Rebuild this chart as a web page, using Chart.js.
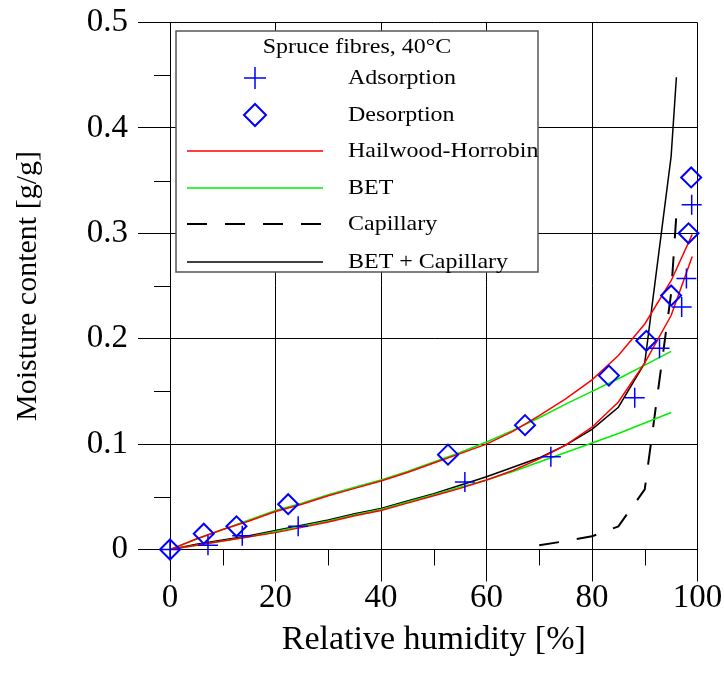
<!DOCTYPE html>
<html>
<head>
<meta charset="utf-8">
<script src="https://cdn.jsdelivr.net/npm/chart.js@4/dist/chart.umd.min.js"></script>
<style>
  html, body { margin: 0; padding: 0; background: #fff; }
  canvas { display: block; }
</style>
</head>
<body>
<canvas id="sorption" width="724" height="685"></canvas>
<script>
// measured points, relative humidity [%] / moisture content [g/g]
var adsRH = [0, 7.2, 13.7, 24.3, 55.9, 72.2, 88.1, 92.8, 97.0, 97.9, 98.9];
var adsMC = [0, 0.004, 0.013, 0.022, 0.064, 0.088, 0.144, 0.191, 0.230, 0.257, 0.327];
var desRH = [0, 6.4, 12.6, 22.4, 52.7, 67.3, 83.2, 90.3, 95.0, 98.3, 98.8];
var desMC = [0, 0.015, 0.022, 0.043, 0.090, 0.118, 0.165, 0.198, 0.241, 0.300, 0.353];

// model curves
var hhRH = [0, 5, 10, 15, 20, 25, 30, 35, 40, 45, 50, 55, 60, 65, 70, 75, 80, 85, 90, 95, 99];
var hhAds = [0, 0.004, 0.008, 0.012, 0.016, 0.021, 0.026, 0.032, 0.037, 0.044, 0.051, 0.058, 0.066, 0.075, 0.086, 0.099, 0.116, 0.140, 0.177, 0.222, 0.278];
var hhDes = [0, 0.010, 0.019, 0.027, 0.036, 0.043, 0.051, 0.058, 0.065, 0.073, 0.082, 0.091, 0.100, 0.112, 0.127, 0.143, 0.161, 0.184, 0.214, 0.255, 0.299];

var betRH = [0, 5, 10, 15, 20, 25, 30, 35, 40, 45, 50, 55, 60, 65, 70, 75, 80, 85, 90, 95];
var betAds = [0, 0.004, 0.008, 0.012, 0.017, 0.022, 0.027, 0.033, 0.038, 0.045, 0.052, 0.059, 0.066, 0.074, 0.083, 0.092, 0.101, 0.110, 0.120, 0.130];
var betDes = [0, 0.010, 0.019, 0.028, 0.037, 0.044, 0.052, 0.059, 0.066, 0.074, 0.083, 0.092, 0.102, 0.113, 0.125, 0.138, 0.150, 0.162, 0.175, 0.188];

var capRH = [70, 75, 80, 85, 90, 95, 96];
var capMC = [0.004, 0.008, 0.0125, 0.022, 0.057, 0.243, 0.318];

var sumRH = [0, 5, 10, 15, 20, 25, 30, 35, 40, 45, 50, 55, 60, 65, 70, 75, 80, 85, 90, 95, 96];
var sumMC = [0, 0.005, 0.009, 0.013, 0.018, 0.023, 0.028, 0.034, 0.039, 0.046, 0.053, 0.061, 0.069, 0.078, 0.087, 0.099, 0.114, 0.135, 0.177, 0.373, 0.448];

var xTicks = [0, 20, 40, 60, 80, 100];
var yTicks = [0, 0.1, 0.2, 0.3, 0.4, 0.5];
var yTickLabels = ['0', '0.1', '0.2', '0.3', '0.4', '0.5'];

var legendTitle = 'Spruce fibres, 40°C';

function pts(xs, ys) {
  return xs.map(function (x, i) { return { x: x, y: ys[i] }; });
}

var SERIF = "'Liberation Serif', 'DejaVu Serif', serif";
var BLUE = '#0000ff', RED = '#ff0000', GREEN = '#00ee00';

function curve(label, data, color, dash, width) {
  return {
    label: label, data: data, showLine: true, fill: false,
    borderColor: color, backgroundColor: color, borderWidth: width || 1.5,
    borderDash: dash || [], pointRadius: 0, pointHoverRadius: 0, tension: 0
  };
}

// outside minor ticks, half the length of the major ones
var minorTicks = {
  id: 'minorTicks',
  afterDraw: function (chart) {
    var ctx = chart.ctx, xs = chart.scales.x, ys = chart.scales.y, a = chart.chartArea;
    ctx.save();
    ctx.strokeStyle = '#000';
    ctx.lineWidth = 1;
    ctx.beginPath();
    for (var i = 0; i < xTicks.length - 1; i++) {
      var px = Math.round(xs.getPixelForValue((xTicks[i] + xTicks[i + 1]) / 2)) + 0.5;
      ctx.moveTo(px, a.bottom);
      ctx.lineTo(px, a.bottom + 16);
    }
    for (var j = 0; j < yTicks.length - 1; j++) {
      var py = Math.round(ys.getPixelForValue((yTicks[j] + yTicks[j + 1]) / 2)) + 0.5;
      ctx.moveTo(a.left - 16, py);
      ctx.lineTo(a.left, py);
    }
    ctx.stroke();
    ctx.restore();
  }
};

// slightly wide serif text, as in the original plot
function wideText(ctx, text, x, y, align) {
  var sx = 1.09;
  ctx.save();
  ctx.translate(x, y);
  ctx.scale(sx, 1);
  ctx.textAlign = align;
  ctx.fillText(text, 0, 0);
  ctx.restore();
}

// boxed key in the upper left of the plot
var keyBox = {
  id: 'keyBox',
  afterDraw: function (chart) {
    var ctx = chart.ctx;
    var box = { l: 176, t: 31, r: 538, b: 272 };
    ctx.save();
    ctx.fillStyle = '#fff';
    ctx.fillRect(box.l, box.t, box.r - box.l, box.b - box.t);
    ctx.strokeStyle = '#555';
    ctx.lineWidth = 1.5;
    ctx.strokeRect(box.l, box.t, box.r - box.l, box.b - box.t);

    ctx.fillStyle = '#000';
    ctx.font = '22px ' + SERIF;
    ctx.textBaseline = 'middle';
    wideText(ctx, legendTitle, 357, 47, 'center');

    var rowY = [78, 115, 151, 188, 224, 262];
    var ds = chart.data.datasets;
    var keyOrder = [0, 1, 2, 4, 6, 7];
    keyOrder.forEach(function (di, k) {
      var d = ds[di], y = rowY[k];
      ctx.save();
      ctx.strokeStyle = d.borderColor;
      ctx.fillStyle = d.backgroundColor;
      ctx.lineWidth = d.borderWidth;
      if (d.showLine) {
        ctx.setLineDash(d.borderDash);
        ctx.beginPath();
        ctx.moveTo(187, y);
        ctx.lineTo(323, y);
        ctx.stroke();
      } else {
        Chart.helpers.drawPoint(ctx, { pointStyle: d.pointStyle, radius: 11, borderWidth: d.borderWidth, rotation: 0 }, 255, y);
      }
      ctx.restore();
      ctx.fillStyle = '#000';
      wideText(ctx, d.label, 348, y, 'left');
    });
    ctx.restore();
  }
};

new Chart(document.getElementById('sorption'), {
  type: 'scatter',
  data: {
    datasets: [
      {
        label: 'Adsorption', data: pts(adsRH, adsMC), pointStyle: 'cross', clip: false,
        pointRadius: 10, borderColor: BLUE, backgroundColor: BLUE, borderWidth: 1.5
      },
      {
        label: 'Desorption', data: pts(desRH, desMC), pointStyle: 'rectRot', clip: false,
        pointRadius: 10, borderColor: BLUE, backgroundColor: 'rgba(0,0,0,0)', borderWidth: 2
      },
      curve('Hailwood-Horrobin', pts(hhRH, hhAds), RED),
      curve('Hailwood-Horrobin', pts(hhRH, hhDes), RED),
      curve('BET', pts(betRH, betAds), GREEN),
      curve('BET', pts(betRH, betDes), GREEN),
      curve('Capillary', pts(capRH, capMC), '#000', [20, 18], 2),
      curve('BET + Capillary', pts(sumRH, sumMC), '#000', [], 1.5)
    ]
  },
  options: {
    responsive: false,
    animation: false,
    devicePixelRatio: 1,
    layout: { padding: { top: 22.5, right: 26.5, left: 0, bottom: 0 } },
    plugins: { legend: { display: false }, tooltip: { enabled: false } },
    scales: {
      x: {
        type: 'linear', min: 0, max: 100,
        afterBuildTicks: function (s) { s.ticks = xTicks.map(function (v) { return { value: v }; }); },
        afterFit: function (s) { s.height = 135.5; s.paddingLeft = 0; s.paddingRight = 0; },
        grid: { color: '#000', lineWidth: 1, tickLength: 32, tickColor: '#000' },
        border: { display: true, color: '#000', width: 1 },
        ticks: { color: '#000', font: { family: SERIF, size: 33 }, padding: -3, maxRotation: 0 },
        title: {
          display: true, text: 'Relative humidity [%]', color: '#000',
          font: { family: SERIF, size: 34 }, padding: { top: 0, bottom: 25 }
        }
      },
      y: {
        type: 'linear', min: 0, max: 0.5,
        afterBuildTicks: function (s) { s.ticks = yTicks.map(function (v) { return { value: v }; }); },
        afterFit: function (s) { s.width = 170; s.paddingTop = 0; s.paddingBottom = 0; },
        grid: { color: '#000', lineWidth: 1, tickLength: 32, tickColor: '#000' },
        border: { display: true, color: '#000', width: 1 },
        ticks: {
          color: '#000', font: { family: SERIF, size: 33 }, padding: 10,
          callback: function (v) { return yTickLabels[yTicks.indexOf(v)]; }
        },
        title: {
          display: true, text: 'Moisture content [g/g]', color: '#000',
          font: { family: SERIF, size: 30 }, padding: { top: 10, bottom: 0 }
        }
      }
    }
  },
  plugins: [minorTicks, keyBox]
});
</script>
</body>
</html>
